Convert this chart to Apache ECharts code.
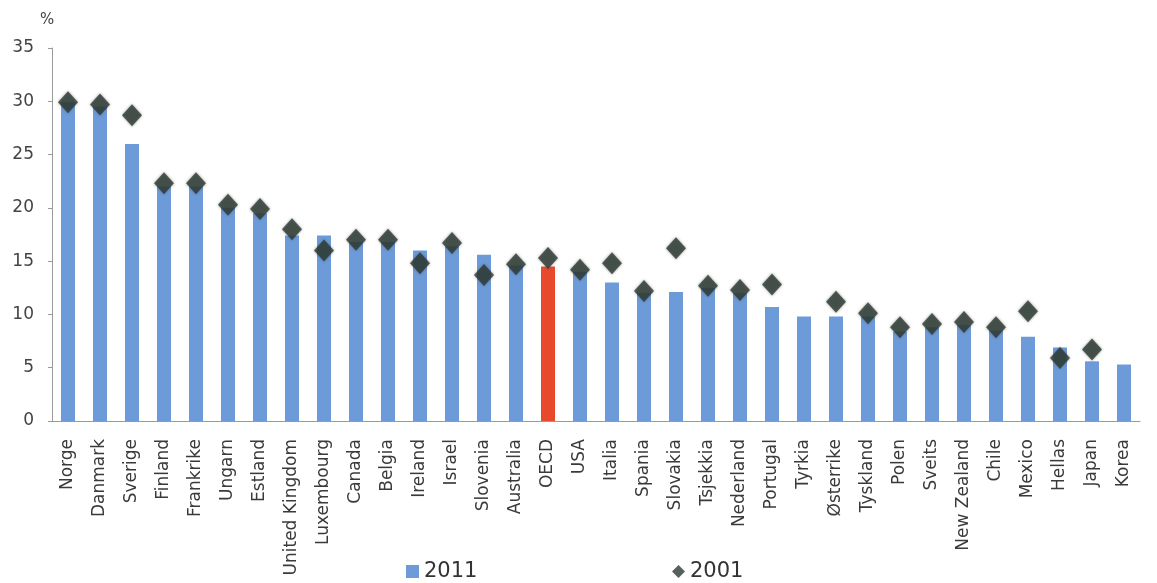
<!DOCTYPE html>
<html>
<head>
<meta charset="utf-8">
<script src="https://cdn.jsdelivr.net/npm/echarts@6/dist/echarts.min.js"></script>
<style>html,body{margin:0;padding:0;background:#fff;}#c{width:1157px;height:583px;}</style>
</head>
<body>
<div id="c"></div>
<script>
const categories = ["Norge","Danmark","Sverige","Finland","Frankrike","Ungarn","Estland","United Kingdom","Luxembourg","Canada","Belgia","Ireland","Israel","Slovenia","Australia","OECD","USA","Italia","Spania","Slovakia","Tsjekkia","Nederland","Portugal","Tyrkia","Østerrike","Tyskland","Polen","Sveits","New Zealand","Chile","Mexico","Hellas","Japan","Korea"];
const values2011 = [29.9,29.5,26.0,22.0,22.0,20.0,19.5,17.4,17.4,16.8,16.8,16.0,16.4,15.6,14.6,14.5,14.0,13.0,12.0,12.1,12.5,12.0,10.7,9.8,9.8,9.8,8.4,8.8,9.0,8.5,7.9,6.9,5.6,5.3];
const values2001 = [29.9,29.7,28.7,22.3,22.3,20.3,19.9,18.0,16.0,17.0,17.0,14.8,16.7,13.7,14.7,15.3,14.2,14.8,12.2,16.2,12.7,12.3,12.8,null,11.2,10.1,8.8,9.1,9.3,8.8,10.3,5.9,6.7,null];
const yTicks = [0,5,10,15,20,25,30,35];
</script>
<script>
const chart = echarts.init(document.getElementById('c'));
const blue = '#6d9bd9', red = '#e8482c', dark = '#2c3a33';
const F = 'DejaVu Sans';
chart.setOption({
  animation:false,
  textStyle:{fontFamily:F},
  title:{text:'%',left:35,top:8,textStyle:{fontSize:15,fontWeight:'normal',color:'#444',fontFamily:F}},
  legend:[
    {data:[{name:'2011',icon:'rect'}],left:401,top:556,itemWidth:13,itemHeight:13,itemGap:7,textStyle:{fontSize:21,color:'#333',fontFamily:F}},
    {data:[{name:'2001',icon:'diamond'}],left:667,top:556,itemWidth:13,itemHeight:13,itemGap:7,textStyle:{fontSize:21,color:'#333',fontFamily:F}}
  ],
  grid:{left:52,right:17,top:48,bottom:162,containLabel:false},
  xAxis:{type:'category',data:categories,
    axisLine:{lineStyle:{color:'#999'}},axisTick:{show:false},
    axisLabel:{rotate:90,interval:0,margin:18,fontSize:17,color:'#3a3a3a',fontFamily:F}},
  yAxis:{type:'value',min:yTicks[0],max:yTicks[yTicks.length-1],interval:5,
    splitLine:{show:false},
    axisLine:{show:true,lineStyle:{color:'#999'}},
    axisTick:{show:true,length:4,lineStyle:{color:'#999'}},
    axisLabel:{fontSize:17,color:'#444',margin:18,fontFamily:F}},
  series:[
    {name:'2011',type:'bar',barWidth:14,itemStyle:{color:blue},
      data:values2011.map((v,i)=>categories[i]==='OECD'?{value:v,itemStyle:{color:red}}:v)},
    {name:'2001',type:'scatter',symbol:'diamond',symbolSize:[20,22],
      itemStyle:{color:dark,shadowColor:'rgba(60,60,60,0.6)',shadowBlur:3},
      data:values2001.map(v=>v===null?'-':v)}
  ]
});
</script>
</body>
</html>
